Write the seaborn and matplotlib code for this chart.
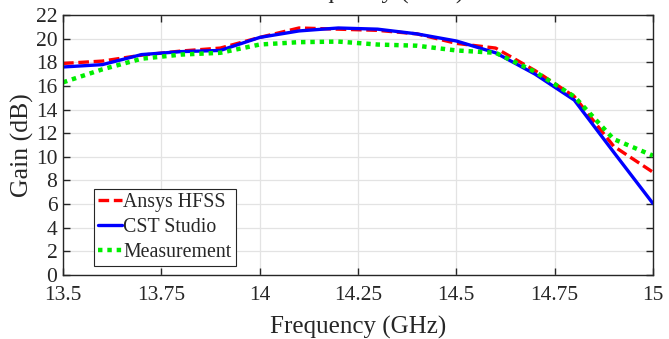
import numpy as np
import pandas as pd
import matplotlib
matplotlib.use("Agg")
import matplotlib.pyplot as plt
import seaborn as sns

# frequency points (GHz)
freq = [13.5, 13.6, 13.7, 13.8, 13.9, 14.0, 14.1, 14.2, 14.3, 14.4, 14.5, 14.6, 14.7, 14.8, 14.9, 15.0]

# gain values (dB)
hfss = [17.9, 18.1, 18.6, 18.95, 19.2, 20.1, 20.9, 20.8, 20.7, 20.4, 19.6, 19.2, 17.3, 15.1, 10.9, 8.7]
cst = [17.6, 17.8, 18.65, 18.9, 19.0, 20.1, 20.65, 20.9, 20.8, 20.4, 19.8, 18.8, 17.0, 14.8, 10.4, 6.05]
meas = [16.3, 17.4, 18.3, 18.65, 18.8, 19.5, 19.7, 19.75, 19.5, 19.4, 19.0, 18.8, 17.2, 15.1, 11.5, 10.1]

series = ["Ansys HFSS", "CST Studio", "Measurement"]
xticks = [13.5, 13.75, 14.0, 14.25, 14.5, 14.75, 15.0]
xticklabels = ["13.5", "13.75", "14", "14.25", "14.5", "14.75", "15"]
yticks = list(range(0, 23, 2))

df = pd.DataFrame({
    "freq": freq * 3,
    "gain": hfss + cst + meas,
    "src": [s for s in series for _ in freq],
})

sns.set_style("ticks")
plt.rcParams["font.family"] = ["Liberation Serif", "DejaVu Serif"]

fig = plt.figure(figsize=(6.69, 3.39), dpi=100)
ax = fig.add_axes([0.0942, 0.1888, 0.976 - 0.0942, 0.9558 - 0.1888])

palette = {"Ansys HFSS": "#ff0000", "CST Studio": "#0000ff", "Measurement": "#00ee00"}
sns.lineplot(data=df, x="freq", y="gain", hue="src", palette=palette, ax=ax,
             linewidth=2.4, legend=False)

styles = {"Ansys HFSS": (0, (3.2, 1.4)), "CST Studio": "-", "Measurement": (0, (1, 1.1))}
for line, name in zip(ax.get_lines(), series):
    line.set_linestyle(styles[name])
    if name == "Measurement":
        line.set_linewidth(3.2)
    line.set_label(name)

ax.set_xlim(13.5, 15)
ax.set_ylim(0, 22)
ax.set_xticks(xticks)
ax.set_xticklabels(xticklabels)
ax.set_yticks(yticks)
ax.grid(True, color="#e3e3e3", linewidth=0.9)
ax.set_axisbelow(True)
ax.tick_params(direction="in", length=5, width=1, top=True, right=True,
               labelsize=15.5, colors="#262626")
ax.tick_params(axis="x", pad=8)
ax.tick_params(axis="y", pad=4)
for sp in ax.spines.values():
    sp.set_color("#262626")
    sp.set_linewidth(1.0)
    sp.set_visible(True)

ax.set_xlabel("Frequency (GHz)", fontsize=18, color="#262626", labelpad=8)
ax.set_ylabel("Gain (dB)", fontsize=18.5, color="#262626", labelpad=1)

leg = ax.legend(loc="lower left", bbox_to_anchor=(0.052, 0.035), fontsize=14.3,
                frameon=True, fancybox=False, edgecolor="#262626", framealpha=1,
                handlelength=1.25, handletextpad=0.05, borderpad=0.2,
                labelspacing=0.3, borderaxespad=0)
leg.get_frame().set_linewidth(0.8)

# clipped caption from the panel above
fig.text(376 / 669, 1 + 1 / 339, "Frequency (GHz)", ha="center", va="baseline",
         fontsize=18, color="#262626")

fig.savefig("out.png", dpi=100)
